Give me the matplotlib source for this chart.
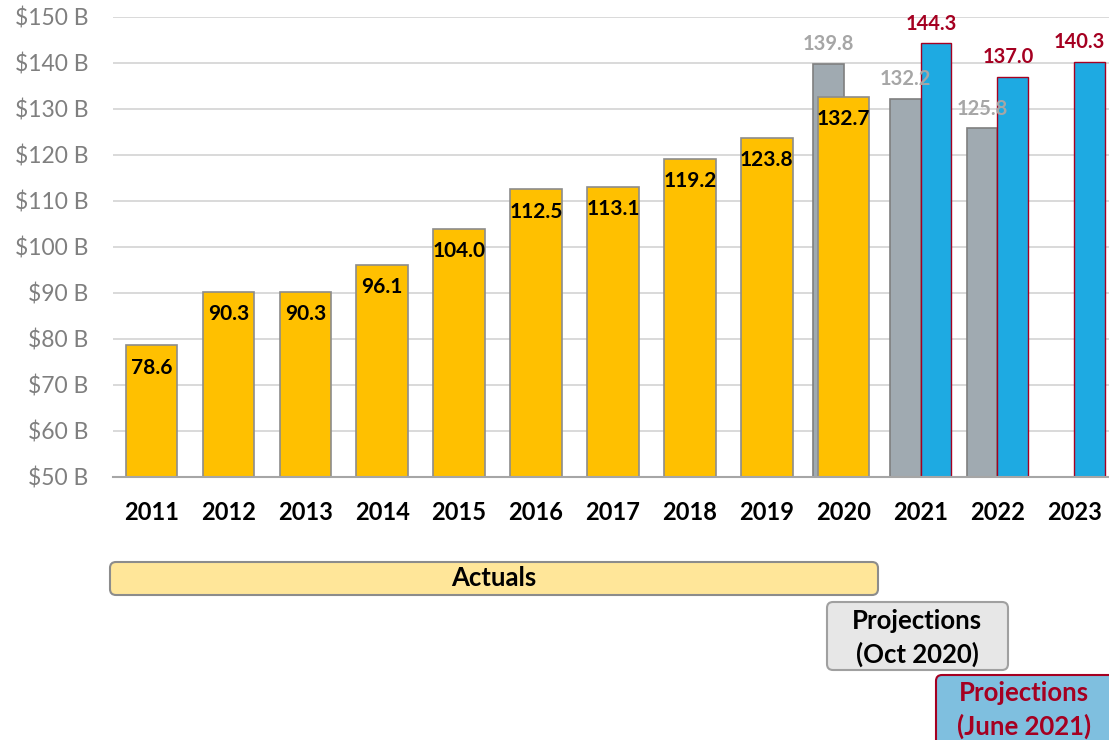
import numpy as np
import matplotlib
matplotlib.use("Agg")
import matplotlib.pyplot as plt
from matplotlib.patches import FancyBboxPatch

plt.rcParams["font.family"] = ["Lato", "DejaVu Sans"]

years = ["2011", "2012", "2013", "2014", "2015", "2016", "2017",
         "2018", "2019", "2020", "2021", "2022", "2023"]
actual_years = years[:10]
actual_vals = [78.6, 90.3, 90.3, 96.1, 104.0, 112.5, 113.1, 119.2, 123.8, 132.7]
oct_years = ["2020", "2021", "2022"]
oct_vals = [139.8, 132.2, 125.8]
june_years = ["2021", "2022", "2023"]
june_vals = [144.3, 137.0, 140.3]
yticks = [50, 60, 70, 80, 90, 100, 110, 120, 130, 140, 150]

C_ACT = "#FFC000"
C_OCT = "#A0AAB1"
C_JUNE = "#1EAAE2"
RED = "#A50021"

fig = plt.figure(figsize=(11.09, 7.40), dpi=100)
ax = fig.add_axes([113 / 1109, 1 - 477 / 740, (1109 - 113) / 1109, 460 / 740])

pos = {y: i for i, y in enumerate(years)}
xo = np.array([pos[y] for y in oct_years])
xj = np.array([pos[y] for y in june_years])
xa = np.array([pos[y] for y in actual_years])

w = 0.4
ax.bar(xo - w / 2, np.array(oct_vals) - 50, w, bottom=50, color=C_OCT,
       edgecolor="#7F7F7F", linewidth=1.2, zorder=2)
ax.bar(xj + w / 2, np.array(june_vals) - 50, w, bottom=50, color=C_JUNE,
       edgecolor=RED, linewidth=1.0, zorder=2)
ax.bar(xa, np.array(actual_vals) - 50, 0.67, bottom=50, color=C_ACT,
       edgecolor="#8C8C8C", linewidth=1.2, zorder=3)

for x, v in zip(xa, actual_vals):
    ax.annotate(f"{v:.1f}", (x, v), xytext=(0, -16), textcoords="offset points",
                ha="center", va="center", fontsize=15, fontweight="bold",
                color="black", zorder=5)
for x, v in zip(xo - w / 2, oct_vals):
    ax.annotate(f"{v:.1f}", (x, v), xytext=(0, 14), textcoords="offset points",
                ha="center", va="center", fontsize=14.5, fontweight="bold",
                color="#A6A6A6", zorder=5, annotation_clip=False)
for x, v in zip(xj + w / 2, june_vals):
    # last label is pulled inside the plot area, as in the original
    last = x == xj.max() + w / 2
    ax.annotate(f"{v:.1f}", (x + w / 2 if last else x, v),
                xytext=(0 if last else -3, 14), textcoords="offset points",
                ha="right" if last else "center", va="center", fontsize=14.5,
                fontweight="bold", color=RED, zorder=5, annotation_clip=False)

ax.set_ylim(50, 150)
ax.set_xlim(-0.5, 12.45)
ax.set_yticks(yticks)
ax.set_yticklabels([f"${t} B" for t in yticks], fontsize=16.5, color="#7F7F7F")
ax.set_xticks(range(len(years)))
ax.set_xticklabels(years, fontsize=17, fontweight="bold", color="black")
ax.tick_params(axis="y", length=0, pad=18)
ax.tick_params(axis="x", length=0, pad=17)
ax.grid(axis="y", color="#D9D9D9", lw=1.4, zorder=0)
ax.set_axisbelow(True)
for s in ("top", "right", "left"):
    ax.spines[s].set_visible(False)
ax.spines["bottom"].set_color("#A6A6A6")
ax.spines["bottom"].set_linewidth(1.5)
ax.spines["bottom"].set_zorder(4)

# legend-like boxes below the chart (pixel -> inches)
T = fig.dpi_scale_trans


def box(x0, y0, x1, y1, fc, ec, text, tc, tx, ty):
    p = FancyBboxPatch((x0 / 100, (740 - y1) / 100), (x1 - x0) / 100, (y1 - y0) / 100,
                       boxstyle="round,pad=0,rounding_size=0.06", transform=T,
                       facecolor=fc, edgecolor=ec, linewidth=1.5, clip_on=False)
    fig.patches.append(p)
    fig.text(tx / 100, (740 - ty) / 100, text, transform=T, ha="center", va="center",
             fontsize=18.5, fontweight="bold", color=tc, linespacing=1.4)


box(110, 562, 878, 595, "#FFE699", "#8C8C8C", "Actuals", "black", 494, 578)
box(827, 602, 1008, 670, "#E7E7E7", "#A0A0A0", "Projections\n(Oct 2020)", "black", 917, 638)
box(936, 675, 1118, 750, "#7FBFDF", RED, "Projections\n(June 2021)", RED, 1024, 710)

fig.savefig("out.png", dpi=100)
